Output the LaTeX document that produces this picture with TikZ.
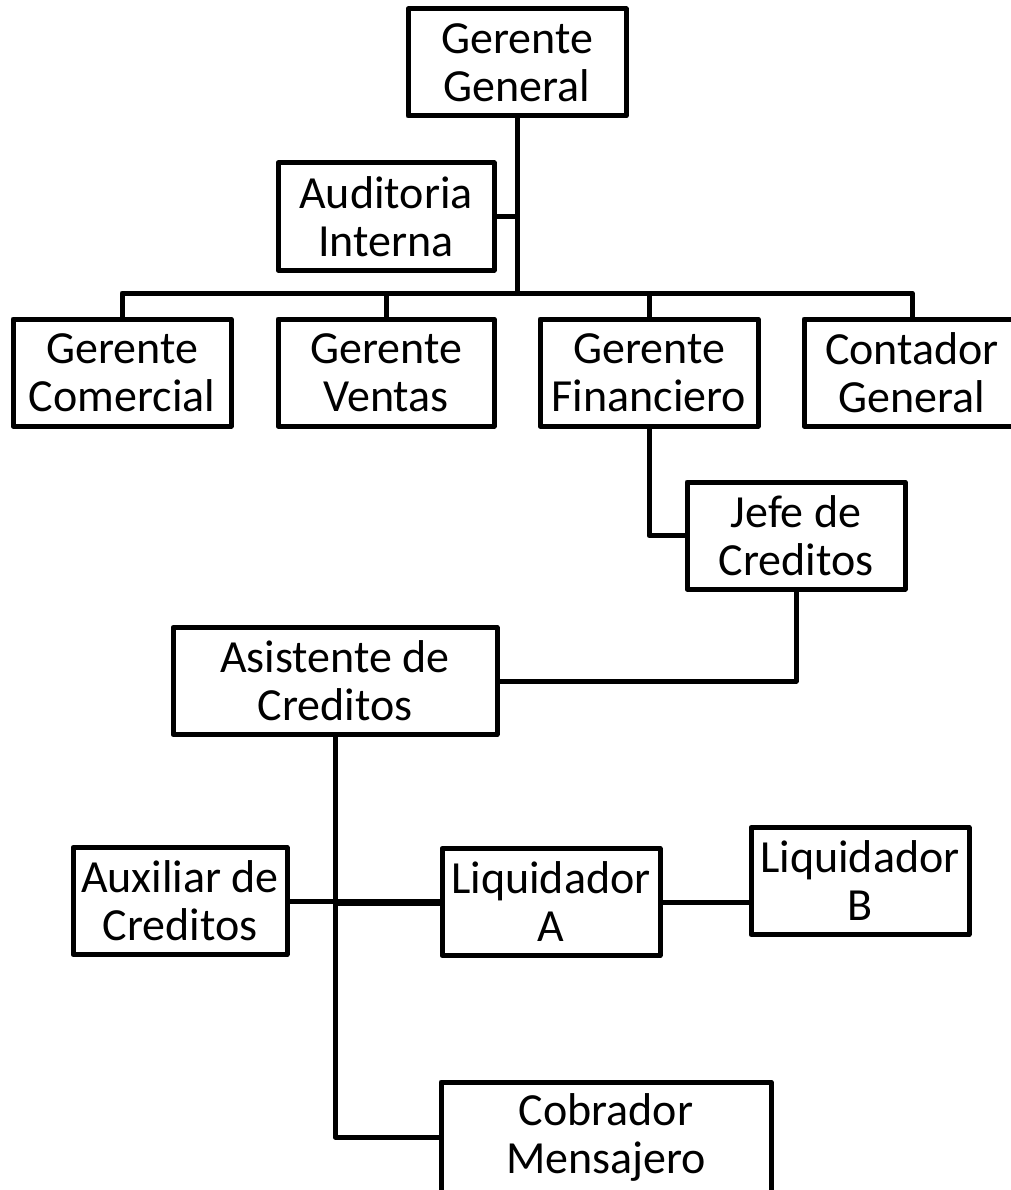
\documentclass[tikz,border=0pt]{standalone}
\usepackage{fontspec}
\setmainfont{Carlito}
\begin{document}
\begin{tikzpicture}[x=1pt,y=-1pt,
  line width=5pt, line join=round,
  box/.style={draw, fill=white, inner sep=0pt, align=center,
    font=\fontsize{46}{48}\selectfont, minimum height=107pt},
  link/.style={draw, line width=5pt}]
\useasboundingbox (0,0) rectangle (1010,1190);

% top level
\node[box, minimum width=218pt] (gg)   at (517,62.5) {Gerente\\General};
\node[box, minimum width=216pt] (aud)  at (386,216.5) {Auditoria\\Interna};

% second row
\node[box, minimum width=218pt] (gc)   at (122,372.5) {Gerente\\Comercial};
\node[box, minimum width=216pt] (gv)   at (386,372.5) {Gerente\\Ventas};
\node[box, minimum width=218pt] (gf)   at (649,372.5) {Gerente\\Financiero};
\node[box, minimum width=216pt] (cg)   at (912,372.5) {Contador\\General};

% credit department
\node[box, minimum width=218pt] (jefe) at (796,535.5) {Jefe de\\Creditos};
\node[box, minimum width=324pt] (asis) at (335,681) {Asistente de\\Creditos};
\node[box, minimum width=214pt] (aux)  at (180,901) {Auxiliar de\\Creditos};
\node[box, minimum width=218pt] (liqa) at (551,902) {Liquidador\\A};
\node[box, minimum width=218pt] (liqb) at (860,881) {Liquidador\\B};
\node[box, minimum width=330pt, minimum height=110pt] (cob) at (606,1137) {Cobrador\\Mensajero};

% connectors
\coordinate (bus) at (517,293);
\draw (gg.south) -- (bus);
\draw (aud.east) -- (aud.east -| bus);
\draw (gc.north) |- (bus);
\draw (cg.north) |- (bus);
\draw (gv.north) -- (gv.north |- bus);
\draw (gf.north) -- (gf.north |- bus);
\draw (gf.south) |- (jefe.west);
\draw (jefe.south) |- (asis.east);
\draw (asis.south) |- (cob.west);
\draw (aux.east) -- (aux.east -| liqa.west);
\draw[line width=7pt] (asis.south |- liqa.west) -- (liqa.west);
\draw (liqa.east) -- (liqa.east -| liqb.west);
\end{tikzpicture}
\end{document}
